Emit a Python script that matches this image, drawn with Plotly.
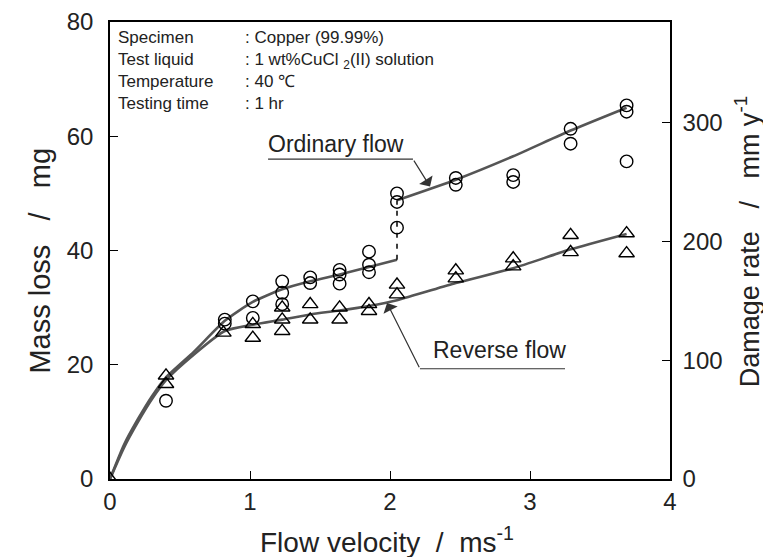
import plotly.graph_objects as go

# ---------------- data ----------------
# Ordinary flow measurements (circles)
ord_v = [0.40, 0.82, 0.82, 1.02, 1.02, 1.23, 1.23, 1.23, 1.43, 1.43, 1.64, 1.64, 1.64,
         1.85, 1.85, 1.85, 2.05, 2.05, 2.05, 2.47, 2.47, 2.88, 2.88, 3.29, 3.29,
         3.69, 3.69, 3.69]
ord_m = [13.7, 27.9, 27.2, 31.1, 28.2, 34.6, 32.6, 30.6, 35.3, 34.3, 36.6, 35.8, 34.2,
         39.8, 37.5, 36.2, 44.0, 50.0, 48.5, 52.7, 51.5, 53.2, 52.0, 61.3, 58.7,
         65.4, 64.3, 55.6]

# Reverse flow measurements (triangles)
rev_v = [0.0, 0.40, 0.40, 0.81, 1.02, 1.02, 1.23, 1.23, 1.23, 1.43, 1.43, 1.64, 1.64,
         1.85, 1.85, 2.05, 2.05, 2.47, 2.47, 2.88, 2.88, 3.29, 3.29, 3.69, 3.69]
rev_m = [0.0, 18.1, 16.6, 25.6, 27.1, 24.7, 30.0, 27.9, 25.9, 30.6, 27.9, 30.0, 27.9,
         30.6, 29.4, 34.0, 32.3, 36.5, 35.1, 38.6, 37.2, 42.7, 39.7, 43.0, 39.5]

# Fitted curves
ord_low_v = [0, 0.1, 0.2, 0.3, 0.4, 0.6, 0.82, 1.02, 1.23, 1.43, 1.64, 1.85, 2.05]
ord_low_m = [0, 6.0, 10.5, 14.5, 17.8, 22.3, 27.7, 31.0, 33.2, 34.6, 35.8, 37.1, 38.4]
ord_high_v = [2.05, 2.47, 2.88, 3.29, 3.69]
ord_high_m = [48.8, 52.4, 56.5, 61.0, 65.0]
jump_v = [2.05, 2.05]
jump_m = [38.4, 48.8]
rev_fit_v = [0, 0.1, 0.2, 0.3, 0.4, 0.6, 0.82, 1.02, 1.23, 1.43, 1.64, 1.85, 2.05,
             2.47, 2.88, 3.29, 3.69]
rev_fit_m = [0, 5.5, 10.0, 14.0, 17.3, 21.8, 25.9, 27.0, 27.9, 28.8, 29.5, 30.3, 31.3,
             34.3, 36.9, 40.2, 42.9]

x_ticks = [0, 1, 2, 3, 4]
y_ticks = [0, 20, 40, 60, 80]
y2_ticks = [0, 100, 200, 300]

info_labels = ["Specimen", "Test liquid", "Temperature", "Testing time"]
info_values = [": Copper (99.99%)", ": 1 wt%CuCl <sub>2</sub>(II) solution",
               ": 40 \u2103", ": 1 hr"]

# ---------------- figure ----------------
FONT = "Liberation Sans, Arial, Helvetica, sans-serif"
TXT = "#222222"
CURVE = dict(color="#555555", width=2.6)

fig = go.Figure()
fig.add_trace(go.Scatter(x=ord_low_v, y=ord_low_m, mode="lines",
                         line=dict(shape="spline", smoothing=0.6, **CURVE)))
fig.add_trace(go.Scatter(x=ord_high_v, y=ord_high_m, mode="lines",
                         line=dict(shape="spline", smoothing=0.6, **CURVE)))
fig.add_trace(go.Scatter(x=rev_fit_v, y=rev_fit_m, mode="lines",
                         line=dict(shape="spline", smoothing=0.6, **CURVE)))
fig.add_trace(go.Scatter(x=jump_v, y=jump_m, mode="lines",
                         line=dict(color="black", width=1.5, dash="5px,6px")))
fig.add_trace(go.Scatter(x=ord_v, y=ord_m, mode="markers",
                         marker=dict(symbol="circle-open", size=12.5, color="black",
                                     line=dict(width=1.4, color="black"))))
fig.add_trace(go.Scatter(x=rev_v, y=rev_m, mode="markers",
                         marker=dict(symbol="triangle-up-open", size=13.5, color="black",
                                     line=dict(width=1.4, color="black"))))
# invisible trace to activate the right axis
fig.add_trace(go.Scatter(x=[None], y=[None], yaxis="y2", mode="markers",
                         hoverinfo="skip"))

axis_common = dict(showline=True, linecolor="black", linewidth=1.5, ticks="inside",
                   ticklen=8, tickwidth=1.2, tickcolor="black", showgrid=False,
                   zeroline=False, ticklabeloverflow="allow", automargin=False,
                   tickfont=dict(size=24, family=FONT, color=TXT))

# The page body adds an 8px margin, so the figure is 8px smaller than the window.
fig.update_layout(
    width=763, height=549,
    margin=dict(l=102, r=101, t=14, b=78, autoexpand=False),
    plot_bgcolor="white", paper_bgcolor="white",
    showlegend=False,
    font=dict(family=FONT, color=TXT),
    xaxis=dict(range=[0, 4], tickvals=x_ticks, mirror=True, ticklabelstandoff=0,
               **axis_common),
    yaxis=dict(range=[0, 80], tickvals=y_ticks, ticklabelstandoff=10, **axis_common),
    yaxis2=dict(range=[0, 385], tickvals=y2_ticks, overlaying="y", side="right",
                ticklabelstandoff=6, **axis_common),
)

# axis titles (placed to match the reference)
GAP = "&nbsp;&nbsp;"
GAP3 = "&nbsp;&nbsp;&nbsp;"
fig.add_annotation(xref="paper", yref="paper", x=0.495, y=-0.133,
                   xanchor="center", yanchor="middle",
                   text="Flow velocity" + GAP + "/" + GAP + "ms<sup>-1</sup>",
                   showarrow=False, font=dict(size=28, family=FONT, color=TXT))
fig.add_annotation(xref="paper", yref="paper", x=-0.125, y=0.478, textangle=-90,
                   xanchor="center", yanchor="middle",
                   text="Mass loss" + GAP3 + "/" + GAP3 + "mg",
                   showarrow=False, font=dict(size=29, family=FONT, color=TXT))
fig.add_annotation(xref="paper", yref="paper", x=1.139, y=0.52, textangle=-90,
                   xanchor="center", yanchor="middle",
                   text="Damage rate" + GAP3 + "/" + GAP3 + "mm y<sup>-1</sup>",
                   showarrow=False, font=dict(size=27, family=FONT, color=TXT))

# info box text: one block per column
fig.add_annotation(x=0.04, y=71.5, text="<br>".join(info_labels), showarrow=False,
                   xanchor="left", yanchor="middle", align="left",
                   font=dict(size=17, family=FONT, color=TXT))
fig.add_annotation(x=0.95, y=71.5, text="<br>".join(info_values), showarrow=False,
                   xanchor="left", yanchor="middle", align="left",
                   font=dict(size=17, family=FONT, color=TXT))

# curve labels with leaders
fig.add_annotation(x=1.614, y=58.6, text="Ordinary flow", showarrow=False,
                   font=dict(size=23, family=FONT, color=TXT))
fig.add_shape(type="line", x0=1.129, y0=56.0, x1=2.164, y1=56.0,
              line=dict(color="#333", width=1.2))
fig.add_annotation(x=2.286, y=51.2, ax=2.164, ay=56.0, axref="x", ayref="y",
                   text="", showarrow=True, arrowhead=1, arrowsize=2.2,
                   arrowwidth=1.2, arrowcolor="#333")

fig.add_annotation(x=2.779, y=22.6, text="Reverse flow", showarrow=False,
                   font=dict(size=23, family=FONT, color=TXT))
fig.add_shape(type="line", x0=2.214, y0=19.3, x1=3.25, y1=19.3,
              line=dict(color="#333", width=1.2))
fig.add_annotation(x=1.979, y=30.8, ax=2.214, ay=19.3, axref="x", ayref="y",
                   text="", showarrow=True, arrowhead=1, arrowsize=2.2,
                   arrowwidth=1.2, arrowcolor="#333")

fig.write_html("out.html")
